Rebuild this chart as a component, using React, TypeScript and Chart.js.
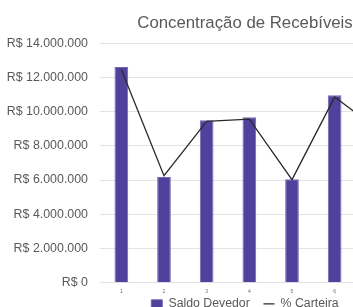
import React, { useEffect, useRef } from "react";
import { Chart, registerables } from "chart.js";

Chart.register(...registerables);

const categories = ["1", "2", "3", "4", "5", "6", "7", "8", "9"];
const saldoDevedor = [12600000, 6180000, 9490000, 9670000, 6040000, 10960000, 9000000, 7500000, 8500000];
const pctCarteira = [15.57, 7.82, 11.78, 11.95, 7.53, 13.56, 11.23, 9.4, 10.6];
const yTicks = [0, 2000000, 4000000, 6000000, 8000000, 10000000, 12000000, 14000000];

const fmtBRL = (v: number) =>
  "R$ " + Math.round(v).toString().replace(/\B(?=(\d{3})+(?!\d))/g, ".");

const FONT = "'Liberation Sans', Arial, sans-serif";

export default function App() {
  const ref = useRef<HTMLCanvasElement | null>(null);
  useEffect(() => {
    if (!ref.current) return;
    const chart = new Chart(ref.current, {
      type: "bar",
      data: {
        labels: categories,
        datasets: [
          {
            type: "line",
            label: "% Carteira",
            data: pctCarteira,
            yAxisID: "y2",
            borderColor: "#2b2b2b",
            backgroundColor: "#2b2b2b",
            borderWidth: 1.3,
            pointRadius: 0,
            pointStyle: "line",
            tension: 0,
            order: 0,
          },
          {
            type: "bar",
            label: "Saldo Devedor",
            data: saldoDevedor,
            yAxisID: "y",
            backgroundColor: "#50419c",
            borderColor: "#7367b5",
            borderWidth: 1,
            pointStyle: "rect",
            categoryPercentage: 1,
            barPercentage: 0.32,
            order: 1,
          },
        ],
      },
      options: {
        responsive: false,
        animation: false,
        layout: { padding: { left: 6, right: 8, top: 0, bottom: 0 } },
        plugins: {
          title: {
            display: true,
            text: "Concentração de Recebíveis",
            color: "#595959",
            font: { family: FONT, size: 16.8, weight: "normal" },
            padding: { top: 13, bottom: 10 },
          },
          legend: {
            position: "bottom",
            reverse: true,
            labels: {
              color: "#595959",
              font: { family: FONT, size: 12.3 },
              usePointStyle: true,
              pointStyleWidth: 11,
              boxHeight: 8,
              padding: 0,
              generateLabels: (c: any) =>
                Chart.defaults.plugins.legend.labels
                  .generateLabels(c)
                  .map((it: any) => (it.text === "Saldo Devedor" ? { ...it, text: it.text + "    " } : it)),
            },
          },
          tooltip: { enabled: false },
        },
        scales: {
          x: {
            grid: { display: false, drawTicks: false },
            border: { display: false },
            afterFit: (scale: any) => {
              scale.height = 15;
            },
            ticks: {
              color: "#707070",
              font: { family: FONT, size: 5 },
              padding: 6,
              autoSkip: false,
              maxRotation: 0,
            },
          },
          y: {
            min: 0,
            max: 14000000,
            afterBuildTicks: (axis: any) => {
              axis.ticks = yTicks.map((v) => ({ value: v }));
            },
            afterFit: (scale: any) => {
              scale.width = 94;
            },
            grid: { color: "#e3e3e3", drawTicks: false },
            border: { display: false },
            ticks: {
              color: "#595959",
              padding: 12,
              font: { family: FONT, size: 12.4 },
              callback: (v: any) => fmtBRL(Number(v)),
            },
          },
          y2: {
            display: false,
            min: 0,
            max: 17.5,
          },
        },
      },
    });
    return () => chart.destroy();
  }, []);
  return (
    <div style={{ position: "absolute", left: 0, top: 0, width: 353, height: 307, overflow: "hidden", background: "#fff" }}>
      <canvas ref={ref} width={492} height={320} style={{ display: "block" }} />
    </div>
  );
}
